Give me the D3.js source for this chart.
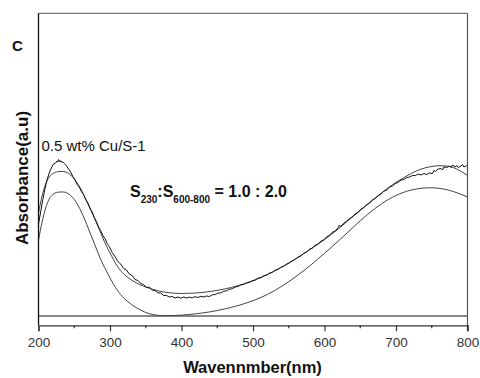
<!DOCTYPE html>
<html>
<head>
<meta charset="utf-8">
<script src="https://cdn.jsdelivr.net/npm/d3@7"></script>
<style>
  body { margin: 0; background: #fff; }
  svg { display: block; font-family: "Liberation Sans", Arial, sans-serif; }
</style>
</head>
<body>
<div id="chart"></div>
<script>
// --- Datos ---
const xTicks = [200, 300, 400, 500, 600, 700, 800];
const xMinorTicks = [250, 350, 450, 550, 650, 750];

// rejilla de las curvas suaves (nm)
const smoothNm = [200, 205, 210, 215, 220, 225, 230, 235, 240, 245, 250, 255, 260, 265, 270, 275, 280, 285, 290, 295, 300,
  310, 320, 330, 340, 350, 360, 370, 380, 390, 400, 410, 420, 430, 440, 450, 460, 470, 480, 490, 500,
  510, 520, 530, 540, 550, 560, 570, 580, 590, 600, 610, 620, 630, 640, 650, 660, 670, 680, 690, 700,
  710, 720, 730, 740, 750, 760, 770, 780, 790, 800];

// ajuste (suma)
const fitAbs = [1.03, 1.20, 1.32, 1.39, 1.425, 1.44, 1.445, 1.445, 1.435, 1.41, 1.37, 1.32, 1.26, 1.185, 1.11, 1.03, 0.95, 0.865, 0.78, 0.70, 0.63,
  0.50, 0.415, 0.36, 0.32, 0.29, 0.265, 0.247, 0.235, 0.228, 0.225, 0.227, 0.23, 0.236, 0.245, 0.256, 0.27, 0.286, 0.305, 0.328, 0.354,
  0.383, 0.415, 0.45, 0.488, 0.529, 0.573, 0.619, 0.666, 0.714, 0.764, 0.818, 0.875, 0.935, 0.995, 1.055, 1.115, 1.175, 1.232, 1.287, 1.337,
  1.38, 1.42, 1.455, 1.48, 1.495, 1.503, 1.50, 1.485, 1.45, 1.405];

// componente inferior
const compAbs = [0.76, 0.94, 1.08, 1.17, 1.215, 1.235, 1.24, 1.24, 1.23, 1.205, 1.165, 1.11, 1.04, 0.96, 0.87, 0.78, 0.69, 0.60, 0.52, 0.45, 0.38,
  0.26, 0.175, 0.115, 0.07, 0.035, 0.015, 0.005, 0.003, 0.005, 0.009, 0.015, 0.022, 0.031, 0.042, 0.055, 0.07, 0.087, 0.106, 0.128, 0.153,
  0.182, 0.215, 0.253, 0.296, 0.343, 0.394, 0.448, 0.505, 0.565, 0.627, 0.69, 0.754, 0.82, 0.886, 0.952, 1.015, 1.072, 1.123, 1.168, 1.205,
  1.235, 1.257, 1.272, 1.28, 1.282, 1.277, 1.265, 1.245, 1.22, 1.19];

// línea base
const baseNm = [200, 800];
const baseAbs = [0, 0];

// espectro medido (ruidoso)
const expNm = [200, 203, 206, 209, 212, 215, 218, 221, 224, 226, 227, 228, 229, 230, 231, 232, 233, 234, 236, 239,
  242, 245, 248, 251, 254, 257, 260, 263, 266, 269, 272, 275, 278, 281, 284, 287, 290, 293, 296, 299,
  303, 307, 311, 315, 319, 323, 327, 331, 335, 339, 343, 347, 351, 355, 359, 363, 367, 371, 375, 379,
  383, 387, 391, 395, 399, 403, 407, 411, 415, 419, 423, 427, 431, 435, 439, 443, 447, 451, 455, 459,
  463, 467, 471, 475, 479, 483, 487, 491, 495, 499, 503, 507, 511, 515, 519, 523, 527, 531, 535, 539,
  543, 547, 551, 555, 559, 563, 567, 571, 575, 579, 583, 587, 591, 595, 599, 603, 607, 611, 615, 619,
  621, 623, 627, 631, 635, 639, 643, 647, 651, 655, 659, 663, 667, 671, 675, 679, 683, 687, 691, 695,
  699, 703, 707, 711, 715, 719, 723, 727, 731, 735, 739, 743, 747, 751, 753, 755, 759, 763, 765, 767,
  771, 775, 777, 779, 783, 785, 787, 791, 793, 795, 799];
const expAbs = [0.92, 1.04, 1.165, 1.27, 1.365, 1.43, 1.48, 1.52, 1.53, 1.55, 1.54, 1.565, 1.545, 1.555, 1.54, 1.55, 1.535, 1.54, 1.525, 1.505,
  1.47, 1.44, 1.395, 1.365, 1.315, 1.29, 1.245, 1.215, 1.165, 1.13, 1.075, 1.04, 0.985, 0.945, 0.89, 0.855, 0.805, 0.775, 0.725, 0.695,
  0.635, 0.595, 0.545, 0.52, 0.475, 0.46, 0.42, 0.405, 0.365, 0.355, 0.325, 0.315, 0.285, 0.29, 0.26, 0.255, 0.23, 0.23, 0.205, 0.205,
  0.19, 0.195, 0.18, 0.19, 0.178, 0.19, 0.18, 0.188, 0.182, 0.193, 0.185, 0.197, 0.19, 0.2, 0.195, 0.212, 0.215, 0.228, 0.232, 0.248,
  0.252, 0.268, 0.272, 0.29, 0.295, 0.312, 0.315, 0.332, 0.335, 0.352, 0.358, 0.378, 0.382, 0.402, 0.408, 0.428, 0.436, 0.458, 0.466, 0.488,
  0.497, 0.518, 0.532, 0.552, 0.566, 0.588, 0.6, 0.628, 0.64, 0.668, 0.68, 0.708, 0.72, 0.748, 0.762, 0.792, 0.806, 0.838, 0.85, 0.882,
  0.91, 0.895, 0.928, 0.948, 0.975, 0.992, 1.022, 1.036, 1.068, 1.085, 1.115, 1.128, 1.162, 1.175, 1.205, 1.218, 1.248, 1.26, 1.29, 1.3,
  1.325, 1.335, 1.36, 1.365, 1.385, 1.39, 1.405, 1.405, 1.42, 1.41, 1.425, 1.415, 1.43, 1.425, 1.455, 1.445, 1.47, 1.475, 1.46, 1.49,
  1.485, 1.5, 1.485, 1.51, 1.49, 1.505, 1.485, 1.5, 1.515, 1.49, 1.505];

// --- Configuración ---
const width = 480, height = 378;
const margin = { top: 13.3, right: 12.5, bottom: 52.7, left: 38.5 };

const svg = d3.select("#chart").append("svg")
  .attr("width", width)
  .attr("height", height);

const x = d3.scaleLinear()
  .domain([200, 800])
  .range([margin.left, width - margin.right]);

const y = d3.scaleLinear()
  .domain([-0.093, 3.027])
  .range([height - margin.bottom, margin.top]);

svg.append("clipPath").attr("id", "plot-clip")
  .append("rect")
  .attr("x", margin.left).attr("y", margin.top)
  .attr("width", width - margin.left - margin.right)
  .attr("height", height - margin.top - margin.bottom);

const line = d3.line()
  .x(d => x(d[0]))
  .y(d => y(d[1]));

const plot = svg.append("g").attr("clip-path", "url(#plot-clip)");

function drawSeries(nm, vals, color, w, curve) {
  plot.append("path")
    .datum(nm.map((d, i) => [d, vals[i]]))
    .attr("fill", "none")
    .attr("stroke", color)
    .attr("stroke-width", w)
    .attr("stroke-linejoin", "round")
    .attr("d", line.curve(curve));
}

drawSeries(baseNm, baseAbs, "#111", 1.2, d3.curveLinear);
drawSeries(smoothNm, compAbs, "#444", 1, d3.curveMonotoneX);
drawSeries(smoothNm, fitAbs, "#444", 1, d3.curveMonotoneX);
drawSeries(expNm, expAbs, "#111", 1, d3.curveLinear);

// --- Marco y ejes ---
const x0 = margin.left, x1 = width - margin.right;
const y0 = height - margin.bottom, y1 = margin.top;

svg.append("line") // arriba
  .attr("x1", x0).attr("x2", x1).attr("y1", y1).attr("y2", y1)
  .attr("stroke", "#777").attr("stroke-width", 1.3);
svg.append("line") // derecha
  .attr("x1", x1).attr("x2", x1).attr("y1", y1).attr("y2", y0 + 6)
  .attr("stroke", "#555").attr("stroke-width", 1.2);
svg.append("line") // izquierda
  .attr("x1", x0).attr("x2", x0).attr("y1", y1).attr("y2", y0)
  .attr("stroke", "#111").attr("stroke-width", 1.3);

const xAxis = svg.append("g")
  .attr("transform", `translate(0,${y0})`)
  .call(d3.axisBottom(x).tickValues(xTicks).tickSize(6).tickPadding(6.5).tickFormat(d3.format("d")));
xAxis.select(".domain").attr("stroke", "#333").attr("stroke-width", 1.2);
xAxis.selectAll(".tick line").attr("stroke", "#333").attr("stroke-width", 1.2);
xAxis.selectAll("text")
  .attr("fill", "#333")
  .style("font-size", "13.5px")
  .style("font-family", "'Liberation Sans', Arial, sans-serif");

svg.append("g")
  .attr("transform", `translate(0,${y0})`)
  .selectAll("line")
  .data(xMinorTicks)
  .enter().append("line")
  .attr("x1", d => x(d)).attr("x2", d => x(d))
  .attr("y1", 0).attr("y2", 3)
  .attr("stroke", "#333").attr("stroke-width", 1.2);

// --- Textos ---
svg.append("text")
  .attr("x", 252.5).attr("y", 373)
  .attr("text-anchor", "middle")
  .style("font-size", "16.5px").style("font-weight", "bold")
  .attr("fill", "#111")
  .text("Wavennmber(nm)");

svg.append("text")
  .attr("transform", "translate(28,178) rotate(-90)")
  .attr("text-anchor", "middle")
  .style("font-size", "17px").style("font-weight", "bold")
  .attr("fill", "#111")
  .text("Absorbance(a.u)");

svg.append("text")
  .attr("x", 12).attr("y", 50.7)
  .style("font-size", "15px").style("font-weight", "bold")
  .attr("fill", "#111")
  .text("C");

svg.append("text")
  .attr("x", 41.5).attr("y", 150.7)
  .style("font-size", "15px")
  .attr("fill", "#111")
  .text("0.5 wt% Cu/S-1");

const ratio = svg.append("text")
  .attr("x", 130).attr("y", 196.7)
  .style("font-size", "16px").style("font-weight", "bold")
  .attr("fill", "#111");
ratio.append("tspan").text("S");
ratio.append("tspan").attr("dy", 6.5).style("font-size", "10px").text("230");
ratio.append("tspan").attr("dy", -6.5).text(":S");
ratio.append("tspan").attr("dy", 6.5).style("font-size", "10px").text("600-800");
ratio.append("tspan").attr("dy", -6.5).text(" = 1.0 : 2.0");
</script>
</body>
</html>
